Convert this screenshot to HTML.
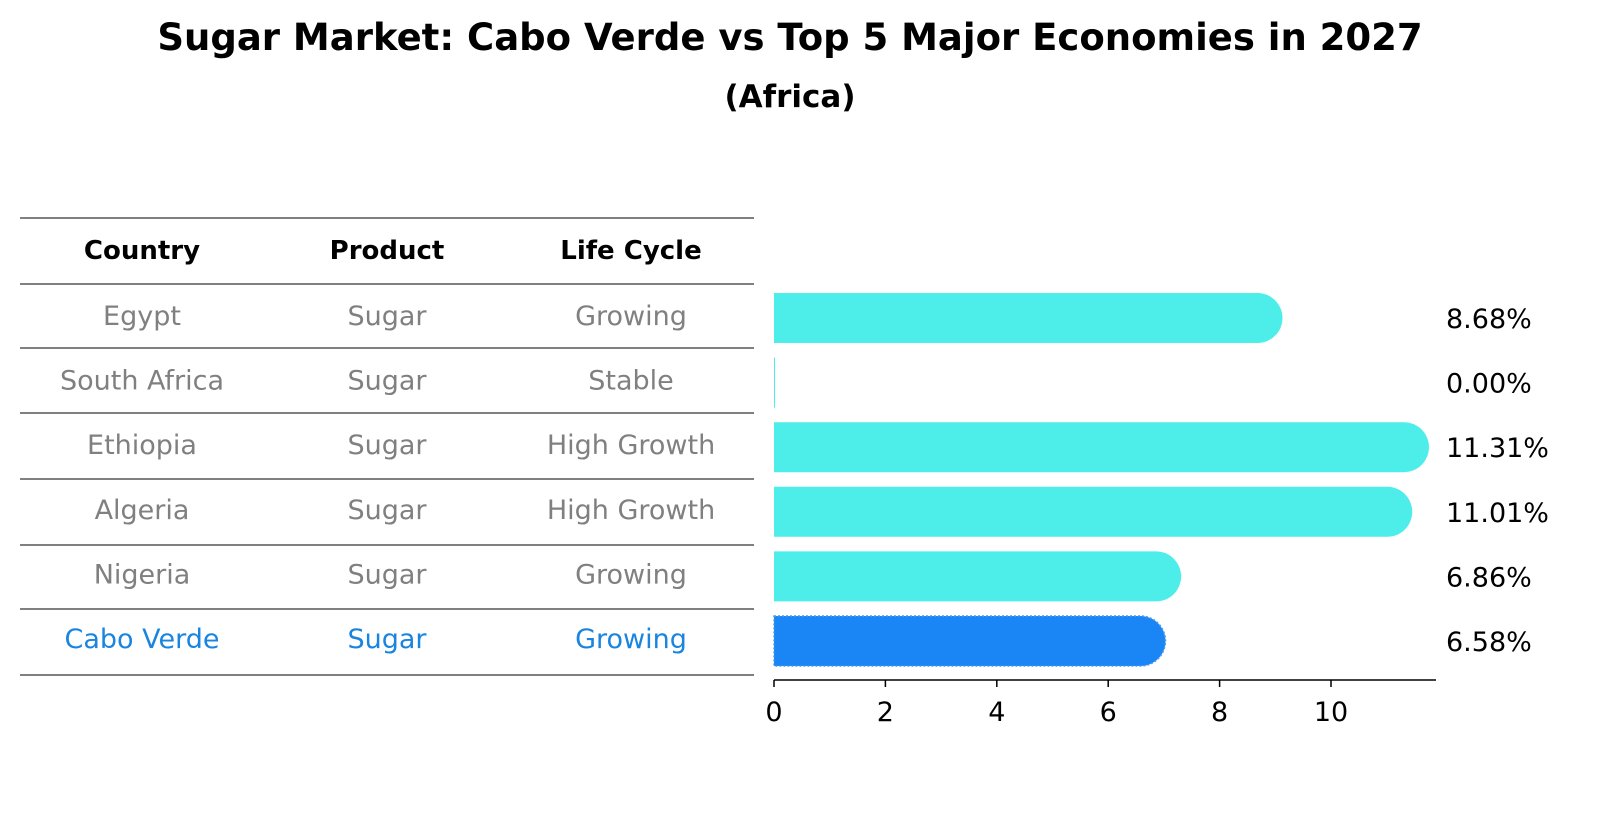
<!DOCTYPE html>
<html><head><meta charset="utf-8"><style>
body{margin:0;background:#fff;width:1604px;height:823px;overflow:hidden;font-family:"Liberation Sans","DejaVu Sans",sans-serif}
</style></head><body>
<svg width="1604" height="823" xmlns="http://www.w3.org/2000/svg" font-family="DejaVu Sans, Liberation Sans, sans-serif">
<text x="790" y="50" text-anchor="middle" font-size="37" font-weight="bold">Sugar Market: Cabo Verde vs Top 5 Major Economies in 2027</text>
<text x="790" y="107" text-anchor="middle" font-size="31" font-weight="bold">(Africa)</text>
<g id="table"></g>
<g id="bars"></g>
</svg>
<script>
const countries=["Egypt","South Africa","Ethiopia","Algeria","Nigeria","Cabo Verde"];
const products=["Sugar","Sugar","Sugar","Sugar","Sugar","Sugar"];
const lifeCycles=["Growing","Stable","High Growth","High Growth","Growing","Growing"];
const values=[8.68,0.00,11.31,11.01,6.86,6.58];
const ticks=[0,2,4,6,8,10];
const NS="http://www.w3.org/2000/svg";
function mk(t,a,p){const e=document.createElementNS(NS,t);for(const k in a)e.setAttribute(k,a[k]);p.appendChild(e);return e;}
const tbl=document.getElementById('table'),bars=document.getElementById('bars');
const rowY=i=>316+i*64.6;
const lineYs=[218,284,348,413,479,545,609,675];
lineYs.forEach(y=>{const l=mk('line',{x1:20,x2:754,y1:y,y2:y,stroke:'#000','stroke-width':1},tbl);

});
const colX=[142,387,631];
["Country","Product","Life Cycle"].forEach((h,j)=>{const t=mk('text',{x:colX[j],y:259,'text-anchor':'middle','font-size':26,'font-weight':'bold'},tbl);t.textContent=h;

});
countries.forEach((c,i)=>{const col=i===countries.length-1?'#1a85e0':'#808080';
[c,products[i],lifeCycles[i]].forEach((v,j)=>{const t=mk('text',{x:colX[j],y:rowY(i)+9,'text-anchor':'middle','font-size':27,fill:col},tbl);t.textContent=v;

});});
const x0=774,sx=55.7;const X=v=>x0+v*sx;const bh=50,r=25;
values.forEach((v,i)=>{const cy=rowY(i)+2;const last=i===values.length-1;const fill=last?'#1a85f5':'#4deeea';
let d;if(v>0){d=`M${x0},${cy-bh/2} L${X(v)},${cy-bh/2} A${r},${r} 0 0 1 ${X(v)},${cy+bh/2} L${x0},${cy+bh/2} Z`;}else{d=`M${x0},${cy-bh/2} L${x0+1},${cy-bh/2} L${x0+1},${cy+bh/2} L${x0},${cy+bh/2} Z`;}
const p=mk('path',{d,fill,stroke:last?'#4a9cf0':'none','stroke-dasharray':last?'2,2':'none','stroke-width':1.5},bars);


const t=mk('text',{x:1446,y:cy+10,'font-size':27},bars);t.textContent=v.toFixed(2)+'%';

});
const ax=mk('line',{x1:x0,x2:1436,y1:680,y2:680,stroke:'#000','stroke-width':1.5},bars);


ticks.forEach(v=>{const l=mk('line',{x1:X(v),x2:X(v),y1:680,y2:687,stroke:'#000','stroke-width':1.5},bars);


const t=mk('text',{x:X(v),y:721,'text-anchor':'middle','font-size':27},bars);t.textContent=v;

});
</script>
</body></html>
